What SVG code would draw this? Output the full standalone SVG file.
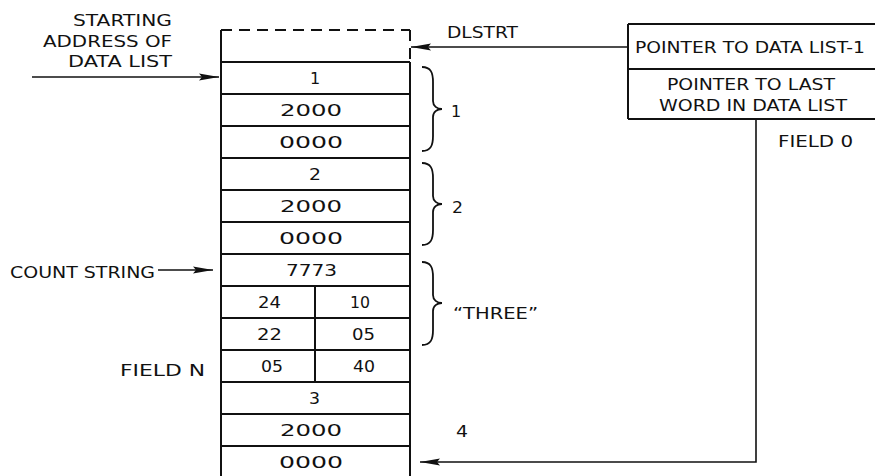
<svg xmlns="http://www.w3.org/2000/svg" width="875" height="476" viewBox="0 0 875 476">
<style>
text{font-family:"DejaVu Sans","Liberation Sans",Arial,sans-serif;font-size:16px;fill:#111;}
.ln{stroke:#111;stroke-width:2;fill:none;}
.thin{stroke:#111;stroke-width:1.6;fill:none;}
.dash{stroke:#111;stroke-width:2;fill:none;stroke-dasharray:11 7;}
.br{stroke:#111;stroke-width:1.8;fill:none;}
</style>
<defs>
<marker id="ah" markerUnits="userSpaceOnUse" markerWidth="22" markerHeight="10" refX="20" refY="5" orient="auto">
<path d="M0,1.5 L20,5 L0,8.5 L3,5 Z" fill="#111"/>
</marker>
</defs>
<rect width="875" height="476" fill="#fff"/>

<g id="connectors">
<line class="thin" x1="32" y1="77" x2="219" y2="77" marker-end="url(#ah)"/>
<line class="thin" x1="628" y1="47" x2="411" y2="47" marker-end="url(#ah)"/>
<line class="thin" x1="158" y1="270" x2="213" y2="270" marker-end="url(#ah)"/>
<polyline class="thin" points="756,119 756,462 420,462" marker-end="url(#ah)"/>
</g>

<g id="stack">
<line class="dash" x1="221" y1="30" x2="410" y2="30"/>
<line class="dash" x1="410" y1="30" x2="410" y2="62"/>
<line class="ln" x1="221" y1="30" x2="221" y2="476"/>
<line class="ln" x1="410" y1="62" x2="410" y2="476"/>
<line class="ln" x1="221" y1="62" x2="410" y2="62"/>
<line class="ln" x1="221" y1="94" x2="410" y2="94"/>
<line class="ln" x1="221" y1="126" x2="410" y2="126"/>
<line class="ln" x1="221" y1="158" x2="410" y2="158"/>
<line class="ln" x1="221" y1="190" x2="410" y2="190"/>
<line class="ln" x1="221" y1="222" x2="410" y2="222"/>
<line class="ln" x1="221" y1="254" x2="410" y2="254"/>
<line class="ln" x1="221" y1="286" x2="410" y2="286"/>
<line class="ln" x1="221" y1="318" x2="410" y2="318"/>
<line class="ln" x1="221" y1="350" x2="410" y2="350"/>
<line class="ln" x1="221" y1="382" x2="410" y2="382"/>
<line class="ln" x1="221" y1="414" x2="410" y2="414"/>
<line class="ln" x1="221" y1="446" x2="410" y2="446"/>
<line class="ln" x1="315" y1="286" x2="315" y2="382"/>
</g>
<g id="cell-1"><text x="310" y="84">1</text></g>
<g id="cell-2000-a"><text x="280" y="116" textLength="62" lengthAdjust="spacingAndGlyphs">2000</text></g>
<g id="cell-0000-a"><text x="279" y="148" textLength="64" lengthAdjust="spacingAndGlyphs">0000</text></g>
<g id="cell-2"><text x="309" y="180" textLength="12" lengthAdjust="spacingAndGlyphs">2</text></g>
<g id="cell-2000-b"><text x="280" y="212" textLength="62" lengthAdjust="spacingAndGlyphs">2000</text></g>
<g id="cell-0000-b"><text x="279" y="244" textLength="64" lengthAdjust="spacingAndGlyphs">0000</text></g>
<g id="cell-7773"><text x="286" y="276" textLength="51" lengthAdjust="spacingAndGlyphs">7773</text></g>
<g id="cell-24"><text x="258" y="308" textLength="23" lengthAdjust="spacingAndGlyphs">24</text></g>
<g id="cell-10"><text x="350" y="308" textLength="20" lengthAdjust="spacingAndGlyphs">10</text></g>
<g id="cell-22"><text x="257" y="340" textLength="25" lengthAdjust="spacingAndGlyphs">22</text></g>
<g id="cell-05a"><text x="352" y="340" textLength="23" lengthAdjust="spacingAndGlyphs">05</text></g>
<g id="cell-05b"><text x="261" y="372" textLength="22" lengthAdjust="spacingAndGlyphs">05</text></g>
<g id="cell-40"><text x="353" y="372" textLength="22" lengthAdjust="spacingAndGlyphs">40</text></g>
<g id="cell-3"><text x="309" y="404" textLength="11" lengthAdjust="spacingAndGlyphs">3</text></g>
<g id="cell-2000-c"><text x="280" y="436" textLength="62" lengthAdjust="spacingAndGlyphs">2000</text></g>
<g id="cell-0000-c"><text x="279" y="468" textLength="64" lengthAdjust="spacingAndGlyphs">0000</text></g>

<g id="braces">
<path class="br" d="M422,67 C431,67 433,73 433,82 L433,101 C433,106 437,109 442,109 C437,109 433,112 433,117 L433,136 C433,145 431,151 422,151"/>
<path class="br" d="M422,163 C431,163 433,169 433,178 L433,196 C433,201 437,204 442,204 C437,204 433,207 433,212 L433,230 C433,239 431,245 422,245"/>
<path class="br" d="M422,262 C431,262 433,268 433,277 L433,295 C433,300 437,303 442,303 C437,303 433,306 433,311 L433,330 C433,339 431,345 422,345"/>
</g>
<g id="label-1"><text x="451" y="117">1</text></g>
<g id="label-2"><text x="452" y="213" textLength="11" lengthAdjust="spacingAndGlyphs">2</text></g>
<g id="label-three"><text x="453" y="319" textLength="85" lengthAdjust="spacingAndGlyphs">“THREE”</text></g>
<g id="label-4"><text x="456" y="437" textLength="12" lengthAdjust="spacingAndGlyphs">4</text></g>

<g id="label-start">
<text x="73" y="26" textLength="99" lengthAdjust="spacingAndGlyphs">STARTING</text>
<text x="43" y="47" textLength="129" lengthAdjust="spacingAndGlyphs">ADDRESS  OF</text>
<text x="68" y="67" textLength="104" lengthAdjust="spacingAndGlyphs">DATA  LIST</text>
</g>
<g id="label-dlstrt"><text x="447" y="38" textLength="71" lengthAdjust="spacingAndGlyphs">DLSTRT</text></g>
<g id="label-count"><text x="10" y="278" textLength="145" lengthAdjust="spacingAndGlyphs">COUNT STRING</text></g>
<g id="label-fieldn"><text x="120" y="376" textLength="85" lengthAdjust="spacingAndGlyphs">FIELD  N</text></g>

<g id="pointer-box">
<line class="ln" x1="628" y1="24" x2="876" y2="24"/>
<line class="ln" x1="628" y1="69" x2="876" y2="69"/>
<line class="ln" x1="628" y1="119" x2="876" y2="119"/>
<line class="ln" x1="628" y1="24" x2="628" y2="119"/>
<text x="635" y="53" textLength="230" lengthAdjust="spacingAndGlyphs">POINTER TO DATA LIST-1</text>
<text x="667" y="90" textLength="168" lengthAdjust="spacingAndGlyphs">POINTER TO LAST</text>
<text x="659" y="111" textLength="188" lengthAdjust="spacingAndGlyphs">WORD IN DATA LIST</text>
</g>
<g id="label-field0"><text x="778" y="147" textLength="75" lengthAdjust="spacingAndGlyphs">FIELD  0</text></g>
</svg>
